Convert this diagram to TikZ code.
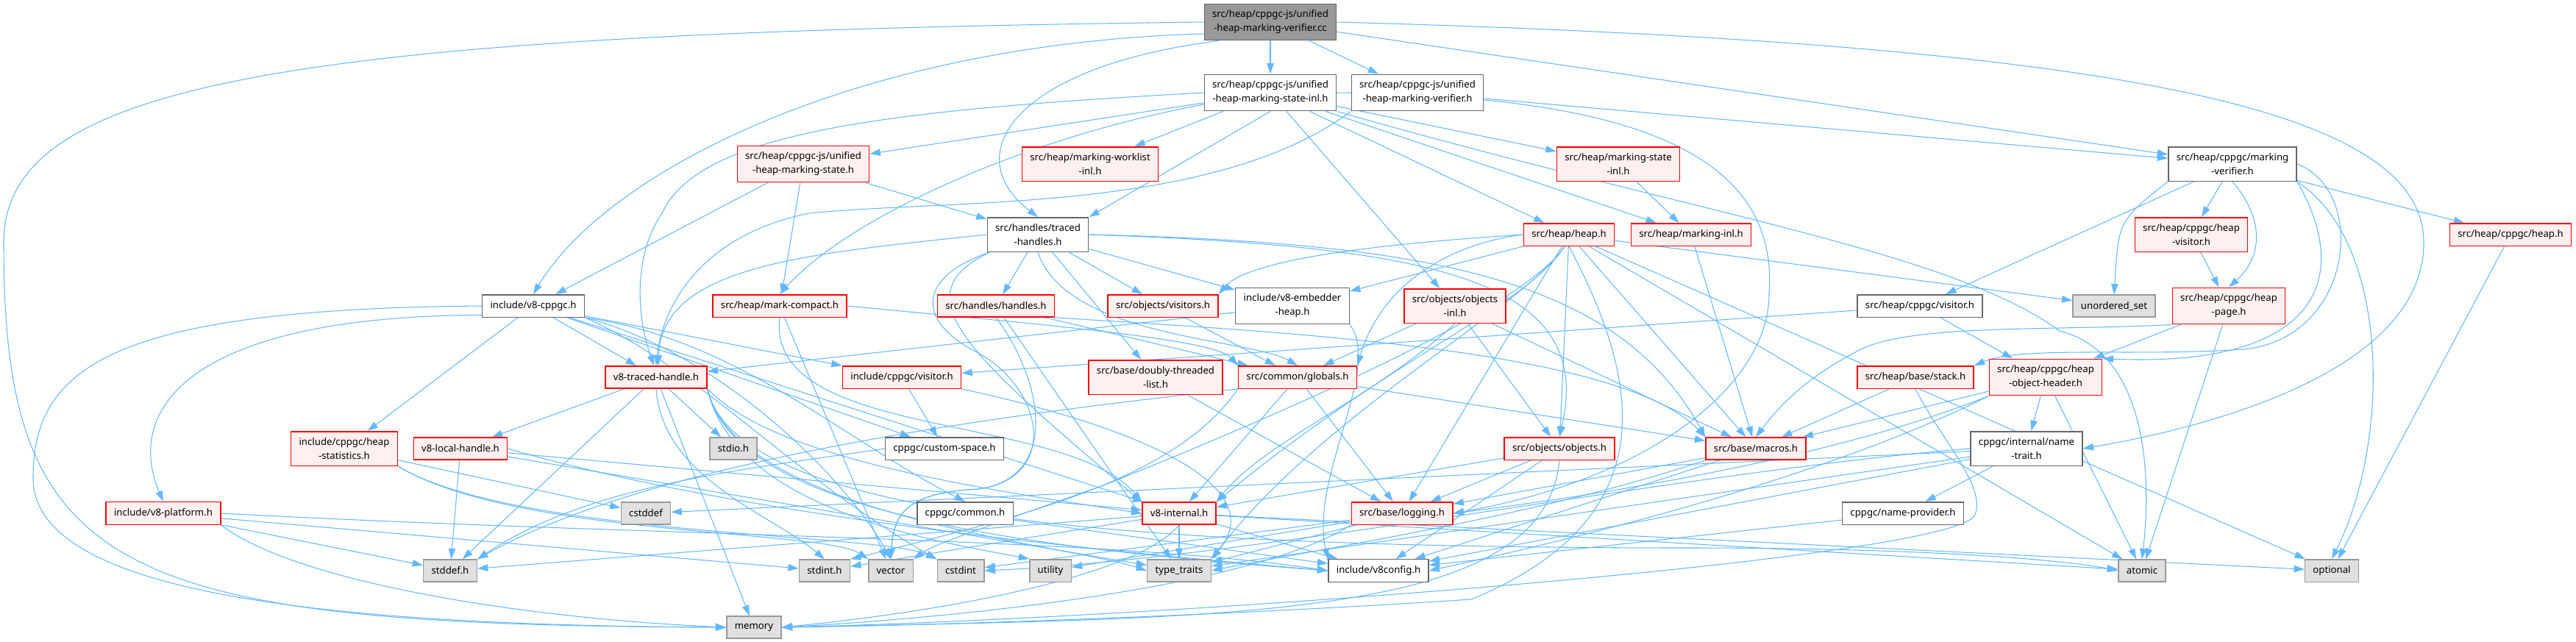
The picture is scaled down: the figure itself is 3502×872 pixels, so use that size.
\documentclass[tikz,border=0pt]{standalone}
\usepackage{fontspec}
\setmainfont{Noto Sans}
\usetikzlibrary{arrows.meta,backgrounds}

\definecolor{edgeblue}{HTML}{63B8FF}
\definecolor{redline}{HTML}{FF0000}
\definecolor{redfill}{HTML}{FFF0F0}
\definecolor{sysline}{HTML}{999999}
\definecolor{sysfill}{HTML}{E0E0E0}
\definecolor{fileline}{HTML}{666666}
\definecolor{mainfill}{HTML}{999999}

\newcommand{\graphfont}{\fontsize{3.75pt}{5.4pt}\selectfont}

\tikzset{
  filebox/.style={draw=fileline, fill=white, line width=0.4pt, font=\graphfont,
    align=center, inner xsep=3.1pt, inner ysep=2.45pt, minimum height=8.5pt},
  redbox/.style={filebox, draw=redline, fill=redfill},
  sysbox/.style={filebox, draw=sysline, fill=sysfill},
  mainbox/.style={filebox, fill=mainfill},
  dep/.style={-{Triangle[length=4.1pt,width=2.7pt]}, color=edgeblue, line width=0.3pt},
}

\begin{document}
\begin{tikzpicture}[x=0.2845pt, y=-0.2845pt]
\useasboundingbox (0,0) rectangle (3502,872);

% rank 0-3
\node[mainbox] (mainv) at (1727,30) {src/heap/cppgc-js/unified\\-heap-marking-verifier.cc};
\node[filebox] (stateinl) at (1727,126) {src/heap/cppgc-js/unified\\-heap-marking-state-inl.h};
\node[filebox] (verifh) at (1927,126) {src/heap/cppgc-js/unified\\-heap-marking-verifier.h};
\node[redbox] (stateh) at (1092,223) {src/heap/cppgc-js/unified\\-heap-marking-state.h};
\node[redbox] (worklist) at (1482,223) {src/heap/marking-worklist\\-inl.h};
\node[redbox] (mstateinl) at (2200,223) {src/heap/marking-state\\-inl.h};
\node[filebox] (cmverif) at (3035,223) {src/heap/cppgc/marking\\-verifier.h};
\node[filebox] (tracedh) at (1411,319) {src/handles/traced\\-handles.h};
\node[redbox] (heaph) at (2133,319) {src/heap/heap.h};
\node[redbox] (markinginl) at (2299,319) {src/heap/marking-inl.h};
\node[redbox] (heapvisitor) at (2979,319) {src/heap/cppgc/heap\\-visitor.h};
\node[redbox] (cheap) at (3413,319) {src/heap/cppgc/heap.h};

% rank 4-5
\node[filebox] (v8cppgc) at (725,416) {include/v8-cppgc.h};
\node[redbox] (markcompact) at (1060,416) {src/heap/mark-compact.h};
\node[redbox] (handles) at (1354,416) {src/handles/handles.h};
\node[redbox] (visitors) at (1581,416) {src/objects/visitors.h};
\node[filebox] (embedder) at (1757,416) {include/v8-embedder\\-heap.h};
\node[redbox] (objectsinl) at (1978,416) {src/objects/objects\\-inl.h};
\node[filebox] (cvisitor) at (2610,416) {src/heap/cppgc/visitor.h};
\node[sysbox] (unorderedset) at (2874,416) {unordered\_set};
\node[redbox] (heappage) at (3030,416) {src/heap/cppgc/heap\\-page.h};
\node[redbox] (v8traced) at (892,513) {v8-traced-handle.h};
\node[redbox] (cppgcvisitor) at (1226,513) {include/cppgc/visitor.h};
\node[redbox] (dthreaded) at (1571,513) {src/base/doubly-threaded\\-list.h};
\node[redbox] (globals) at (1764,513) {src/common/globals.h};
\node[redbox] (stack) at (2604,513) {src/heap/base/stack.h};
\node[redbox] (objheader) at (2781,513) {src/heap/cppgc/heap\\-object-header.h};

% rank 6-9
\node[redbox] (heapstats) at (468,610) {include/cppgc/heap\\-statistics.h};
\node[redbox] (localhandle) at (626,610) {v8-local-handle.h};
\node[sysbox] (stdioh) at (997,610) {stdio.h};
\node[filebox] (customspace) at (1284,610) {cppgc/custom-space.h};
\node[redbox] (objectsh) at (2120,610) {src/objects/objects.h};
\node[redbox] (macros) at (2387,610) {src/base/macros.h};
\node[filebox] (nametrait) at (2755,610) {cppgc/internal/name\\-trait.h};
\node[redbox] (v8platform) at (222,698) {include/v8-platform.h};
\node[sysbox] (cstddef) at (878,698) {cstddef};
\node[filebox] (commonh) at (1312,698) {cppgc/common.h};
\node[redbox] (v8internal) at (1603,698) {v8-internal.h};
\node[redbox] (logging) at (1906,698) {src/base/logging.h};
\node[filebox] (nameprovider) at (2587,698) {cppgc/name-provider.h};
\node[sysbox] (stddefh) at (612,776) {stddef.h};
\node[sysbox] (stdinth) at (1121,776) {stdint.h};
\node[sysbox] (vector) at (1211,776) {vector};
\node[sysbox] (cstdint) at (1306,776) {cstdint};
\node[sysbox] (utility) at (1428,776) {utility};
\node[sysbox] (typetraits) at (1603,776) {type\_traits};
\node[filebox] (v8config) at (1874,776) {include/v8config.h};
\node[sysbox] (atomic) at (2912,776) {atomic};
\node[sysbox] (optional) at (3170,776) {optional};
\node[sysbox] (memory) at (1025,853) {memory};

\begin{scope}[on background layer]
% includes of the .cc file
\path[dep] (mainv) edge (stateinl) edge (verifh) edge (cmverif);
\draw[dep] (mainv.west) .. controls (400,45) and (5,110) .. (5,330) .. controls (5,780) and (150,850) .. (memory.west);
\draw[dep] (mainv.190) .. controls (1150,60) and (820,240) .. (v8cppgc.north);
\draw[dep] (mainv.200) .. controls (1380,90) and (1300,210) .. (tracedh.north);
\draw[dep] (mainv.east) .. controls (2900,60) and (3295,150) .. (3295,330) .. controls (3295,520) and (2950,590) .. (nametrait.east);

% unified-heap-marking-state-inl.h
\path[dep] (stateinl) edge (stateh) edge (worklist) edge (mstateinl) edge (heaph)
  edge (markinginl) edge (objectsinl);
\draw[dep] (stateinl.south) -- (tracedh.north east);
\draw[dep] (stateinl.190) .. controls (1380,190) and (1150,300) .. (markcompact.north);
\draw[dep] (stateinl.west) .. controls (1200,150) and (950,180) .. (900,290) .. controls (865,340) and (862,420) .. (v8traced.100);
\draw[dep] (stateinl.south east) .. controls (2300,290) and (2650,340) .. (2800,450) .. controls (2920,480) and (2925,650) .. (atomic.north);
\draw[dep] (stateinl.east) .. controls (2200,130) and (2420,200) .. (2405,400) .. controls (2405,520) and (2250,650) .. (logging.east);

\path[dep] (verifh) edge (cmverif);
\draw[dep] (verifh.south west) .. controls (1650,290) and (1300,270) .. (1100,290) .. controls (950,320) and (900,420) .. (v8traced.north);
\path[dep] (stateh) edge (v8cppgc) edge (markcompact) edge (tracedh);
\path[dep] (mstateinl) edge (markinginl);

% src/heap/cppgc/marking-verifier.h
\path[dep] (cmverif) edge (cvisitor) edge (heapvisitor) edge (cheap);
\draw[dep] (cmverif.south west) .. controls (2880,300) .. (unorderedset.north);
\draw[dep] (cmverif.south) .. controls (3080,300) and (3075,350) .. (heappage.north);
\draw[dep] (cmverif.south east) .. controls (3250,330) and (3250,600) .. (optional.north);
\draw[dep] (cmverif.south east) .. controls (3200,380) and (3150,500) .. (objheader.north east);
\draw[dep] (cmverif.east) .. controls (3220,260) and (3200,460) .. (3050,475) .. controls (2900,485) and (2750,470) .. (stack.north east);

% src/handles/traced-handles.h
\path[dep] (tracedh) edge (handles) edge (visitors) edge (embedder) edge (dthreaded);
\draw[dep] (tracedh.west) .. controls (1100,345) and (900,360) .. (v8traced.80);
\draw[dep] (tracedh.south) .. controls (1450,460) and (1700,460) .. (globals.north);
\draw[dep] (tracedh.east) .. controls (1950,330) and (2200,380) .. (macros.north west);
\draw[dep] (tracedh.east) .. controls (1950,335) and (2170,380) .. (objectsh.north);
\draw[dep] (tracedh.200) .. controls (1230,400) and (1300,470) .. (v8internal.north west);
\draw[dep] (tracedh.200) .. controls (1240,380) and (1250,440) .. (1330,480) .. controls (1420,530) and (1440,650) .. (1330,665) .. controls (1230,670) and (1215,700) .. (vector.north);

% src/heap/heap.h
\path[dep] (heaph) edge (embedder) edge (objectsh) edge (logging) edge (macros)
  edge (atomic) edge (optional) edge (unorderedset);
\draw[dep] (heaph.west) .. controls (1900,330) and (1700,350) .. (visitors.north east);
\draw[dep] (heaph.west) .. controls (1980,330) and (1880,380) .. (globals.north east);
\draw[dep] (heaph.250) .. controls (2070,420) and (1900,480) .. (v8internal.north east);
\draw[dep] (heaph.250) .. controls (2070,420) and (1800,560) .. (typetraits.north east);
\draw[dep] (heaph.250) .. controls (2070,420) and (1750,560) .. (1500,660) .. controls (1330,720) and (1270,740) .. (vector.north east);
\draw[dep] (heaph.south) .. controls (2220,500) and (2280,700) .. (2000,815) .. controls (1700,835) and (1300,850) .. (memory.east);
\path[dep] (markinginl) edge (macros);
\path[dep] (heapvisitor) edge (heappage);
\path[dep] (cheap) edge (optional);

% include/v8-cppgc.h
\path[dep] (v8cppgc) edge (heapstats) edge (v8traced) edge (cppgcvisitor) edge (customspace)
  edge (v8internal);
\draw[dep] (v8cppgc.south east) .. controls (1000,460) and (1150,600) .. (commonh.north);
\draw[dep] (v8cppgc.south east) .. controls (950,500) and (1080,650) .. (cstdint.north west);
\draw[dep] (v8cppgc.south east) .. controls (980,480) and (1150,650) .. (vector.north);
\draw[dep] (v8cppgc.west) .. controls (150,420) and (45,500) .. (45,650) .. controls (45,800) and (400,850) .. (memory.west);
\draw[dep] (v8cppgc.190) .. controls (250,430) and (170,560) .. (v8platform.north);

\path[dep] (markcompact) edge (vector);
\draw[dep] (markcompact.east) .. controls (1400,440) and (1650,460) .. (globals.north west);
\draw[dep] (markcompact.south) .. controls (1040,600) and (1450,560) .. (v8internal.north west);
\path[dep] (handles) edge (globals) edge (typetraits);
\draw[dep] (handles.south east) .. controls (1700,450) and (2200,470) .. (macros.north west);
\draw[dep] (handles.south) .. controls (1420,520) and (1440,650) .. (1330,665) .. controls (1230,670) and (1215,700) .. (vector.north);
\path[dep] (visitors) edge (globals);
\path[dep] (embedder) edge (v8traced);
\draw[dep] (embedder.south east) .. controls (1880,500) and (1780,650) .. (v8config.north west);
\path[dep] (objectsinl) edge (objectsh) edge (globals) edge (macros);
\draw[dep] (objectsinl.south) .. controls (1870,540) and (1720,600) .. (v8internal.north east);
\path[dep] (cvisitor) edge (cppgcvisitor) edge (objheader);
\path[dep] (heappage) edge (objheader) edge (atomic);
\draw[dep] (heappage.south west) .. controls (2800,450) and (2600,440) .. (2530,475) .. controls (2460,510) and (2420,550) .. (macros.north);

% include/v8-traced-handle.h
\path[dep] (v8traced) edge (stdioh) edge (localhandle) edge (stddefh) edge (memory);
\draw[dep] (v8traced.south) .. controls (900,650) and (1050,700) .. (stdinth.north);
\draw[dep] (v8traced.south east) .. controls (1050,620) and (1300,660) .. (v8internal.west);
\draw[dep] (v8traced.south east) .. controls (1000,700) and (1400,745) .. (v8config.west);
\draw[dep] (v8traced.south east) .. controls (1000,700) and (1450,740) .. (typetraits.west);
\draw[dep] (v8traced.south east) .. controls (1000,700) and (1300,740) .. (utility.north west);
\draw[dep] (v8traced.south east) .. controls (1000,700) and (1500,745) .. (2300,745) .. controls (2600,745) and (2800,760) .. (atomic.west);
\path[dep] (cppgcvisitor) edge (customspace);
\draw[dep] (cppgcvisitor.south east) .. controls (1500,570) and (1740,650) .. (typetraits.north east);
\path[dep] (dthreaded) edge (logging);
\path[dep] (globals) edge (v8internal) edge (logging) edge (macros);
\draw[dep] (globals.south west) .. controls (1400,560) and (900,620) .. (stddefh.north east);
\draw[dep] (globals.south west) .. controls (1600,650) and (1400,700) .. (stdinth.north east);
\path[dep] (stack) edge (macros);
\draw[dep] (stack.south) .. controls (2640,600) and (2700,660) .. (2685,700) .. controls (2660,760) and (1600,840) .. (memory.east);
\path[dep] (objheader) edge (nametrait) edge (atomic) edge (macros);
\draw[dep] (objheader.south west) .. controls (2500,620) and (2200,670) .. (logging.east);
\draw[dep] (objheader.south west) .. controls (2500,640) and (2200,720) .. (v8config.east);

\path[dep] (heapstats) edge (cstddef);
\draw[dep] (heapstats.south east) .. controls (700,730) and (1120,720) .. (vector.north west);
\draw[dep] (heapstats.south east) .. controls (700,730) and (1200,725) .. (cstdint.north west);
\path[dep] (localhandle) edge (stddefh) edge (typetraits) edge (v8internal);
\draw[dep] (localhandle.east) .. controls (1000,700) and (1450,745) .. (v8config.west);
\draw[dep] (customspace.west) .. controls (1000,640) and (800,660) .. (stddefh.north east);
\path[dep] (objectsh) edge (logging) edge (v8config) edge (v8internal);
\draw[dep] (objectsh.south) .. controls (2100,840) and (1700,840) .. (memory.east);
\path[dep] (macros) edge (logging) edge (v8config);
\draw[dep] (macros.south west) .. controls (2100,700) and (1800,745) .. (typetraits.east);
\path[dep] (nametrait) edge (nameprovider) edge (v8config) edge (cstddef) edge (typetraits);
\draw[dep] (nametrait.west) .. controls (2300,640) and (1700,760) .. (cstdint.east);

\path[dep] (v8platform) edge (stddefh) edge (stdinth);
\draw[dep] (v8platform.south east) .. controls (400,790) and (700,840) .. (memory.west);
\draw[dep] (v8platform.east) .. controls (900,730) and (1500,730) .. (v8config.west);
\path[dep] (commonh) edge (v8config);
\path[dep] (v8internal) edge (stddefh) edge (stdinth) edge (atomic) edge (optional)
  edge (typetraits) edge (v8config);
\draw[dep] (v8internal.south) .. controls (1550,780) and (1300,830) .. (memory.east);
\path[dep] (logging) edge (cstdint) edge (utility) edge (typetraits);
\draw[dep] (logging.south west) .. controls (1700,800) and (1300,840) .. (memory.east);
\path[dep] (nameprovider) edge (v8config);
\end{scope}
\end{tikzpicture}
\end{document}
